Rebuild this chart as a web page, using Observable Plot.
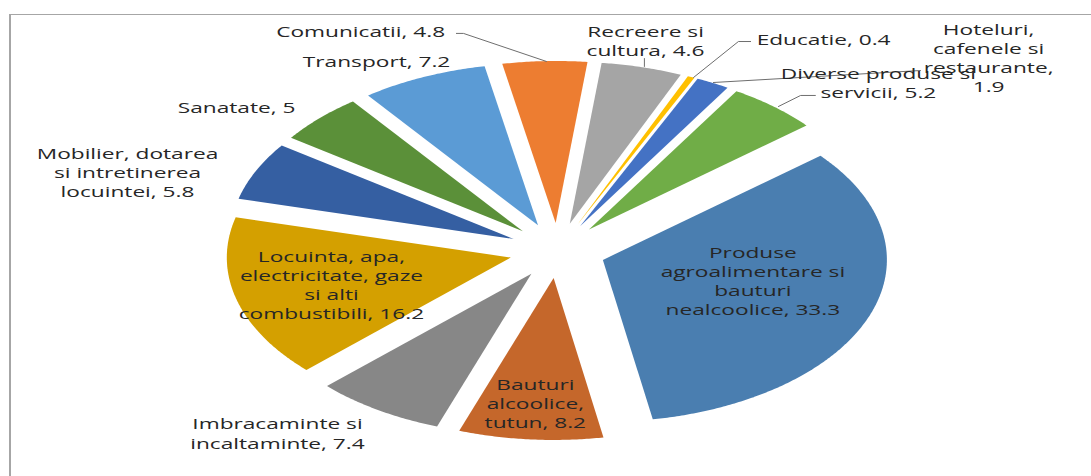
<!DOCTYPE html>
<html>
<head>
<meta charset="utf-8">
<script src="https://cdn.jsdelivr.net/npm/d3@7"></script>
<script src="https://cdn.jsdelivr.net/npm/@observablehq/plot@0.6"></script>
<style>
  html, body { margin: 0; padding: 0; background: #fff; }
  #wrap { position: relative; width: 1091px; height: 476px; overflow: hidden; }
  #frame { position: absolute; left: 9px; top: 14px; right: -5px; bottom: -5px;
           border-top: 1px solid #a6a6a6; border-left: 2px solid #a6a6a6; pointer-events: none; }
  #wrap svg { position: absolute; left: 0; top: 0; }
</style>
</head>
<body>
<div id="wrap"><div id="frame"></div></div>
<script>
// ---- data ----
const categories = [
  "Produse agroalimentare si bauturi nealcoolice",
  "Bauturi alcoolice, tutun",
  "Imbracaminte si incaltaminte",
  "Locuinta, apa, electricitate, gaze si alti combustibili",
  "Mobilier, dotarea si intretinerea locuintei",
  "Sanatate",
  "Transport",
  "Comunicatii",
  "Recreere si cultura",
  "Educatie",
  "Hoteluri, cafenele si restaurante",
  "Diverse produse si servicii"
];
const values = [33.3, 8.2, 7.4, 16.2, 5.8, 5, 7.2, 4.8, 4.6, 0.4, 1.9, 5.2];
const labelText = [
  "Produse\nagroalimentare si\nbauturi\nnealcoolice",
  "Bauturi\nalcoolice,\ntutun",
  "Imbracaminte si\nincaltaminte",
  "Locuinta, apa,\nelectricitate, gaze\nsi alti\ncombustibili",
  "Mobilier, dotarea\nsi intretinerea\nlocuintei",
  "Sanatate",
  "Transport",
  "Comunicatii",
  "Recreere si\ncultura",
  "Educatie",
  "Hoteluri,\ncafenele si\nrestaurante,\n",
  "Diverse produse si\nservicii"
];
const colors = ["#4a7eb0", "#c5672b", "#878787", "#d4a000", "#355fa2", "#5b9039",
                "#5b9bd5", "#ed7d31", "#a5a5a5", "#ffc000", "#4472c4", "#70ad47"];

// ---- layout (in pie-radius units; x right, y down) ----
const W = 1091, H = 476;
const cx = 557, cy = 250, rx = 284, ry = 162;   // pie centre and radii in px
const startAngle = 50;                            // degrees clockwise from 12 o'clock
const explode = 0.17;
const labelPos = [
  [0.688, 0.185], [-0.078, 0.938], [-0.986, 1.126], [-0.796, 0.210],
  [-1.514, -0.488], [-1.130, -0.889], [-0.637, -1.173], [-0.693, -1.358],
  [0.310, -1.299], [0.937, -1.309], [1.518, -1.191], [1.130, -1.040]
];
const leaders = [
  {i: 7,  pts: [[-0.356, -1.340], [-0.331, -1.340], [-0.039, -1.167]]},
  {i: 8,  pts: [[0.306, -1.185], [0.306, -1.136]]},
  {i: 9,  pts: [[0.680, -1.290], [0.637, -1.290], [0.479, -1.068]]},
  {i: 10, pts: [[0.549, -1.037], [1.278, -1.111]]},
  {i: 11, pts: [[0.778, -0.889], [0.856, -0.957], [0.908, -0.957]]}
];

// ---- geometry ----
const total = d3.sum(values);
const rad = Math.PI / 180;
const slices = [];
let acc = startAngle;
values.forEach((v, i) => {
  const a0 = acc, a1 = acc + v / total * 360;
  acc = a1;
  const mid = (a0 + a1) / 2 * rad;
  const ox = explode * Math.sin(mid), oy = -explode * Math.cos(mid);
  slices.push({name: categories[i], x: ox, y: oy});
  const n = Math.max(2, Math.ceil((a1 - a0) / 0.5));
  for (let k = 0; k <= n; k++) {
    const a = (a0 + (a1 - a0) * k / n) * rad;
    slices.push({name: categories[i], x: ox + Math.sin(a), y: oy - Math.cos(a)});
  }
});

const labels = categories.map((c, i) => ({
  name: c,
  text: labelText[i].endsWith("\n") ? labelText[i] + values[i] : labelText[i] + ", " + values[i],
  x: labelPos[i][0], y: labelPos[i][1]
}));
const leaderPts = leaders.flatMap(l => l.pts.map(p => ({id: l.i, x: p[0], y: p[1]})));

const chart = Plot.plot({
  width: W, height: H, margin: 0,
  x: {domain: [-cx / rx, (W - cx) / rx], range: [0, W], axis: null},
  y: {domain: [-cy / ry, (H - cy) / ry], range: [0, H], axis: null},
  color: {domain: categories, range: colors},
  style: {background: "transparent"},
  marks: [
    Plot.line(slices, {x: "x", y: "y", z: "name", fill: "name", stroke: "none", curve: "linear-closed"}),
    Plot.line(leaderPts, {x: "x", y: "y", z: "id", stroke: "#6e6e6e", strokeWidth: 1}),
    Plot.text(labels, {x: "x", y: "y", text: "text", fontSize: 14, lineHeight: 1.36,
                       fontFamily: "Open Sans", fill: "#262626"})
  ]
});
document.getElementById("wrap").appendChild(chart);

// horizontally stretched label glyphs, as in the original rendering
const k = 1.62;
chart.querySelectorAll('g[aria-label="text"] text').forEach(t => {
  const tr = t.getAttribute("transform");
  if (tr) t.setAttribute("transform", tr + ` scale(${k},1)`);
  else {
    const x = t.getAttribute("x") || 0, y = t.getAttribute("y") || 0;
    t.removeAttribute("x"); t.removeAttribute("y");
    t.setAttribute("transform", `translate(${x},${y}) scale(${k},1)`);
  }
});
</script>
</body>
</html>
